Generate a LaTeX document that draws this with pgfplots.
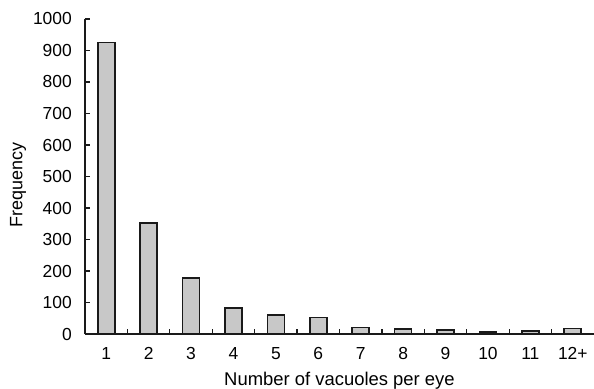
\documentclass[border=0pt]{standalone}
\usepackage{pgfplots}
\pgfplotsset{compat=1.18}
\usepackage{fontspec}
\setmainfont{Liberation Sans}
\definecolor{barfill}{HTML}{C8C8C8}
\definecolor{edge}{HTML}{1A1A1A}
\begin{document}
\fontsize{17.5}{20}\selectfont
\begin{tikzpicture}
\begin{axis}[
  scale only axis,
  width=509bp, height=315bp,
  xmin=-0.5, xmax=11.5,
  ymin=0, ymax=1000,
  axis x line*=bottom,
  axis y line*=left,
  axis line style={edge, line width=1.4bp},
  xtick={0,...,11},
  xticklabels={1,2,3,4,5,6,7,8,9,10,11,12+},
  major x tick style={draw=none},
  minor x tick style={edge, line width=1.3bp},
  major y tick style={edge, line width=1.3bp},
  minor xtick={0.5,1.5,...,10.5},
  minor tick length=5bp,
  ytick={0,100,...,1000},
  major tick length=5bp,
  tick align=inside,
  xticklabel style={anchor=base, inner sep=0pt, yshift=-25bp},
  yticklabel style={anchor=east, inner sep=0pt, xshift=-13bp},
  /pgf/number format/assume math mode=true,
  /pgf/number format/1000 sep={},
  ticklabel style={font=\fontsize{17.5}{20}\selectfont},
  xlabel={Number of vacuoles per eye},
  ylabel={Frequency},
  every axis x label/.style={at={(axis description cs:0.5,0)}, anchor=base, yshift=-51.7bp, font=\fontsize{18.5}{22}\selectfont},
  every axis y label/.style={at={(axis description cs:-0.1316,0.473)}, anchor=center, rotate=90, font=\fontsize{18}{22}\selectfont},
  clip=false,
]
\addplot[ybar, bar width=17bp, fill=barfill, draw=edge, line width=1.6bp] coordinates {
(0,925) (1,353) (2,178) (3,82) (4,61) (5,53) (6,21) (7,16) (8,13) (9,7) (10,10) (11,18)
};
\end{axis}
\pgfresetboundingbox
\path[use as bounding box] (-85bp,-55bp) rectangle (509bp,334bp);
\end{tikzpicture}
\end{document}
